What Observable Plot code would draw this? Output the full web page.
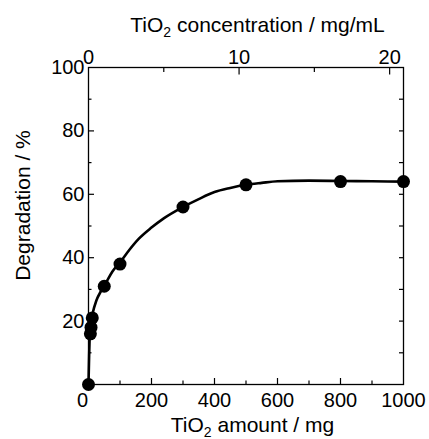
<!DOCTYPE html>
<html>
<head>
<meta charset="utf-8">
<script src="https://cdn.jsdelivr.net/npm/d3@7"></script>
<script src="https://cdn.jsdelivr.net/npm/@observablehq/plot@0.6"></script>
<style>
  html, body { margin: 0; padding: 0; background: #fff; }
</style>
</head>
<body>
<script>
// Measured points
const amountMg = [0, 6, 8, 12, 50, 100, 300, 500, 800, 1000];
const degradation = [0, 16, 18, 21, 31, 38, 56, 63, 64, 64];

// Fitted curve
const curveAmount = [0, 2, 4, 7, 12, 25, 40, 55, 75, 100, 130, 160, 200, 240, 300, 350, 400, 450, 500, 550, 600, 700, 800, 900, 1000];
const curveDeg = [0, 9, 16, 19.5, 22, 26.5, 29.5, 32, 35.5, 38.5, 42.5, 46, 49.5, 52.5, 56, 58.5, 60.7, 62, 63, 63.6, 64.1, 64.3, 64.2, 64.1, 64];

// Axis ticks
const xLabelTicks = [200, 400, 600, 800, 1000];
const xZeroTick = [0];
const xMajorTicks = [200, 400, 600, 800];
const xMinorTicks = [100, 300, 500, 700, 900];
const yLabelTicks = [20, 40, 60, 80, 100];
const yMajorTicks = [20, 40, 60, 80];
const yMinorTicks = [10, 30, 50, 70, 90];
const yRightTicks = [10, 20, 30, 40, 50, 60, 70, 80, 90];
const concLabelTicks = [0, 10, 20];
const concMajorTicks = [10, 20];
const concMinorTicks = [5, 15];
const volumeMl = 47.8; // mg per (mg/mL) on top axis

const points = amountMg.map((a, i) => ({amount: a, deg: degradation[i]}));
const curve = curveAmount.map((a, i) => ({amount: a, deg: curveDeg[i]}));
const toAmount = c => c * volumeMl;

const font = "'Liberation Sans', Arial, sans-serif";
const plain = d => String(d);

const plot = Plot.plot({
  width: 429,
  height: 439,
  marginLeft: 88,
  marginRight: 26,
  marginTop: 67,
  marginBottom: 55,
  style: {fontFamily: font, fontSize: "20px", background: "white", color: "black"},
  x: {domain: [0, 1000], label: null},
  y: {domain: [0, 100], label: null},
  marks: [
    Plot.frame({stroke: "black", strokeWidth: 1.3}),
    // labels
    Plot.axisX(xLabelTicks, {anchor: "bottom", tickSize: 0, tickPadding: 8, label: null, fontSize: 20, tickFormat: plain}),
    Plot.axisX(xZeroTick, {anchor: "bottom", tickSize: 0, tickPadding: 8, dx: -6, label: null, fontSize: 20, tickFormat: plain}),
    Plot.axisY(yLabelTicks, {anchor: "left", tickSize: 0, tickPadding: 4, label: null, fontSize: 20, tickFormat: plain}),
    Plot.axisX(concLabelTicks.map(toAmount), {anchor: "top", tickSize: 0, tickPadding: 4, label: null, fontSize: 20,
      tickFormat: d => String(Math.round(d / volumeMl))}),
    // inward ticks
    Plot.axisX(xMajorTicks, {anchor: "bottom", tickSize: 6, dy: -6, text: null, label: null, strokeWidth: 1.2}),
    Plot.axisX(xMinorTicks, {anchor: "bottom", tickSize: 3.5, dy: -3.5, text: null, label: null, strokeWidth: 1.2}),
    Plot.axisY(yMajorTicks, {anchor: "left", tickSize: 6, dx: 6, text: null, label: null, strokeWidth: 1.2}),
    Plot.axisY(yMinorTicks, {anchor: "left", tickSize: 3.5, dx: 3.5, text: null, label: null, strokeWidth: 1.2}),
    Plot.axisY(yRightTicks, {anchor: "right", tickSize: 5, dx: -5, text: null, label: null, strokeWidth: 1.2}),
    Plot.axisX(concMajorTicks.map(toAmount), {anchor: "top", tickSize: 6.5, dy: 6.5, text: null, label: null, strokeWidth: 1.2}),
    Plot.axisX(concMinorTicks.map(toAmount), {anchor: "top", tickSize: 4, dy: 4, text: null, label: null, strokeWidth: 1.2}),
    // data
    Plot.line(curve, {x: "amount", y: "deg", stroke: "black", strokeWidth: 2.6, curve: "monotone-x"}),
    Plot.dot(points, {x: "amount", y: "deg", r: 6.5, fill: "black", stroke: "none"})
  ]
});

document.body.appendChild(plot);

// Axis titles with subscripts
const svg = d3.select(plot);
function subTitle(g, before, sub, after) {
  g.append("tspan").text(before);
  g.append("tspan").attr("dy", 5).attr("font-size", 14).text(sub);
  g.append("tspan").attr("dy", -5).text(after);
}
const xr = plot.scale("x").range;
const yr = plot.scale("y").range;
const xMid = (xr[0] + xr[1]) / 2;
const yMid = (yr[0] + yr[1]) / 2;

const bottomTitle = svg.append("text")
  .attr("x", xMid + 7).attr("y", 432)
  .attr("text-anchor", "middle").attr("font-size", 21).attr("font-family", font).attr("fill", "black");
subTitle(bottomTitle, "TiO", "2", " amount / mg");

const topTitle = svg.append("text")
  .attr("x", xMid + 12).attr("y", 31.5)
  .attr("text-anchor", "middle").attr("font-size", 21).attr("font-family", font).attr("fill", "black");
subTitle(topTitle, "TiO", "2", " concentration / mg/mL");

svg.append("text")
  .attr("transform", `translate(30,${yMid - 20}) rotate(-90)`)
  .attr("text-anchor", "middle").attr("font-size", 21).attr("font-family", font).attr("fill", "black")
  .text("Degradation / %");
</script>
</body>
</html>
